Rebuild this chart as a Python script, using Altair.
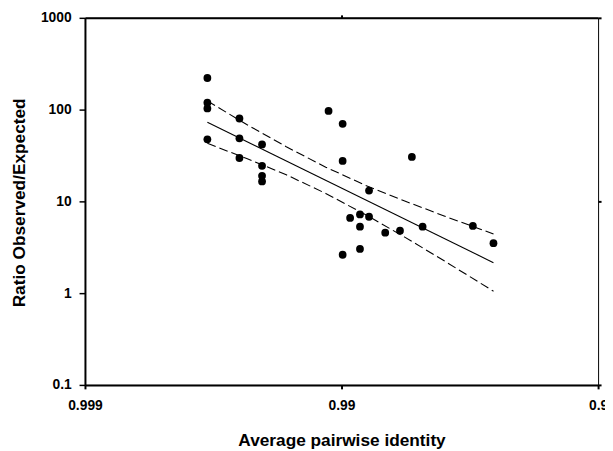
import altair as alt
import pandas as pd

# Observed points (average pairwise identity, ratio observed/expected)
identity = [0.9970, 0.9970, 0.9970, 0.9970, 0.9960, 0.9960, 0.9960,
            0.9951, 0.9951, 0.9951, 0.9951, 0.9911, 0.9899, 0.9899, 0.9899,
            0.9892, 0.9882, 0.9882, 0.9882, 0.9872, 0.9872, 0.9852, 0.9831,
            0.9812, 0.9793, 0.9675, 0.9609]
ratio = [221, 119, 103, 47.5, 80, 48.7, 29.7,
         41.7, 24.4, 19.0, 16.5, 96.8, 70, 27.6, 2.62,
         6.6, 7.2, 5.3, 3.03, 6.8, 13.1, 4.56, 4.8,
         30.5, 5.3, 5.4, 3.5]

# Regression line (read endpoints)
fit_identity = [0.9970, 0.9609]
fit_ratio = [73.0, 2.15]

# Confidence band curves
band_identity = [0.99700, 0.99573, 0.99391, 0.99132, 0.98763, 0.98237, 0.97488, 0.96088]
upper_ratio = [124.3, 68.8, 39.4, 23.6, 15.0, 10.1, 6.93, 4.41]
lower_ratio = [42.9, 29.3, 19.5, 12.2, 7.2, 4.08, 2.25, 1.05]

# Axis ticks (x as 1 - identity)
x_ticks = [0.001, 0.01, 0.1]
y_ticks = [0.1, 1, 10, 100, 1000]

pts = pd.DataFrame({"d": [round(1 - v, 6) for v in identity], "ratio": ratio})
fit = pd.DataFrame({"d": [round(1 - v, 6) for v in fit_identity], "ratio": fit_ratio})
band = pd.DataFrame({
    "d": [round(1 - v, 6) for v in band_identity] * 2,
    "ratio": upper_ratio + lower_ratio,
    "band": ["upper"] * len(upper_ratio) + ["lower"] * len(lower_ratio),
})

xs = alt.Scale(type="log", domain=[0.001, 0.1], nice=False)
ys = alt.Scale(type="log", domain=[0.1, 1000], nice=False)

band_layer = alt.Chart(band).mark_line(
    color="black", strokeWidth=1.1, strokeDash=[9, 4]
).encode(
    x=alt.X("d:Q", scale=xs, axis=None),
    y=alt.Y("ratio:Q", scale=ys, axis=None),
    detail="band:N",
)

fit_layer = alt.Chart(fit).mark_line(color="black", strokeWidth=1.1).encode(
    x=alt.X("d:Q", scale=xs, title="",
            axis=alt.Axis(orient="top", values=[0.01], labels=False, tickSize=3,
                          tickWidth=2, domainWidth=2, grid=False)),
    y=alt.Y("ratio:Q", scale=ys, title="",
            axis=alt.Axis(orient="right", values=[1000, 10, 0.1], labels=False,
                          tickSize=3, tickWidth=2, domain=False, grid=False)),
)

pt_layer = alt.Chart(pts).mark_circle(size=62, color="black", opacity=1).encode(
    x=alt.X("d:Q", scale=xs, title="Average pairwise identity",
            axis=alt.Axis(orient="bottom", values=x_ticks,
                          labelExpr="format(1 - datum.value, '.3~f')",
                          labelFlush=False, labelOverlap=False,
                          tickSize=4, tickWidth=2, labelPadding=10, domainWidth=2,
                          grid=False, titleX=260, titleY=61,
                          titleAlign="center", titleBaseline="alphabetic")),
    y=alt.Y("ratio:Q", scale=ys, title="Ratio Observed/Expected",
            axis=alt.Axis(orient="left", values=y_ticks, format="~g",
                          labelFlush=False, labelOverlap=False,
                          tickSize=6, tickWidth=1.5, labelPadding=8, domainWidth=2,
                          grid=False, titleX=-61, titleY=187, titleAngle=270,
                          titleAlign="center", titleBaseline="alphabetic")),
)

chart = alt.layer(band_layer, fit_layer, pt_layer).properties(
    width=520, height=372,
    padding={"left": 78, "top": 7, "right": 7, "bottom": 64},
    autosize=alt.AutoSizeParams(type="none"),
).configure_view(
    stroke="black", strokeWidth=1
).configure_axis(
    labelFont="Liberation Sans", labelFontWeight="bold", labelFontSize=14,
    labelColor="black", tickColor="black", domainColor="black",
    titleFont="Liberation Sans", titleFontWeight="bold", titleFontSize=17.5,
    titleColor="black",
)

chart.save("out.html", embed_options={"renderer": "svg", "actions": False})
